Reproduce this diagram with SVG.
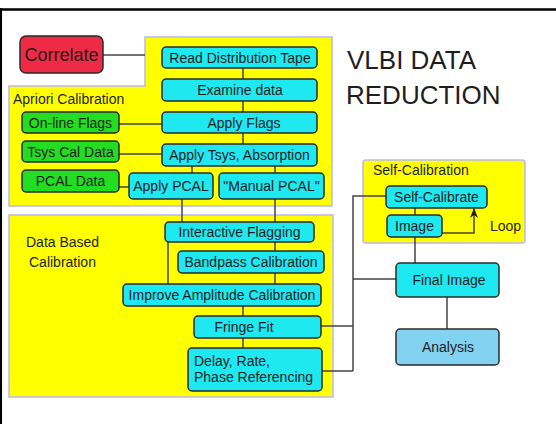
<svg xmlns="http://www.w3.org/2000/svg" width="556" height="424" viewBox="0 0 556 424">
  <style>
    text { font-family: "Liberation Sans", Arial, sans-serif; fill: #1e1e1e; }
    .lbl { font-size: 14px; }
    .c { text-anchor: middle; }
    .panel { fill: #ffff00; stroke: #b8b8f0; stroke-width: 1.5; }
    .box { stroke: #2a2a2a; stroke-width: 1.5; }
    .cyan { fill: #1ee8f0; }
    .green { fill: #22dd22; }
    .red { fill: #ee2a44; }
    .blue { fill: #82d2f2; }
    .wire { fill: none; stroke: #444; stroke-width: 1.5; }
  </style>
  <defs>
    <marker id="arrow" viewBox="0 0 10 8" refX="9" refY="4" markerWidth="10" markerHeight="8" markerUnits="userSpaceOnUse" orient="auto">
      <path d="M0,0 L10,4 L0,8 L3,4 Z" fill="#1e1e1e"/>
    </marker>
  </defs>

  <rect width="556" height="424" fill="#ffffff"/>
  <!-- page frame -->
  <path d="M0,9.5 H556 M0.8,8 V424" stroke="#000" stroke-width="2.5" fill="none"/>

  <!-- panels -->
  <g id="panel-apriori">
    <path class="panel" d="M145,37 H332 V206 H9 V86 H145 Z"/>
    <text class="lbl" x="13" y="104">Apriori Calibration</text>
  </g>
  <g id="panel-databased">
    <rect class="panel" x="9" y="215" width="324" height="182"/>
    <text class="lbl" x="26" y="247">Data Based</text>
    <text class="lbl" x="29" y="267">Calibration</text>
  </g>
  <g id="panel-selfcal">
    <rect class="panel" x="363" y="160" width="162" height="83" rx="3"/>
    <text class="lbl" x="373" y="175">Self-Calibration</text>
    <text class="lbl" x="490" y="231">Loop</text>
  </g>

  <!-- title -->
  <g id="title">
    <text x="347" y="69" font-size="26">VLBI DATA</text>
    <text x="346" y="104" font-size="26">REDUCTION</text>
  </g>

  <!-- connectors -->
  <g id="connectors">
    <path class="wire" d="M103,55 H145"/>
    <path class="wire" d="M243,68 V79 M243,101 V112 M243,133 V144"/>
    <path class="wire" d="M119,124 H162 M119,154 H162 M119,187 H129"/>
    <path class="wire" d="M192,166 V173 M275,166 V173"/>
    <path class="wire" d="M182,199 V222 M275,199 V222"/>
    <path class="wire" d="M275,242 V251 M168,242 V284 M275,273 V284"/>
    <path class="wire" d="M243,306 V316 M243,338 V348"/>
    <path class="wire" d="M321,326 H353 M322,371 H353 M353,371 V196 H386 M353,279 H396"/>
    <path class="wire" d="M415,208 V215 M415,237 V263 M447,297 V329"/>
    <path class="wire" d="M442,233 H474 V209" marker-end="url(#arrow)"/>
  </g>

  <!-- nodes -->
  <g id="correlate">
    <rect class="box red" x="20" y="36" width="83" height="37" rx="6"/>
    <text class="c" x="61.5" y="61" font-size="18">Correlate</text>
  </g>
  <g id="read-tape">
    <rect class="box cyan" x="162" y="47" width="155" height="21" rx="4"/>
    <text class="lbl c" x="240" y="62.5">Read Distribution Tape</text>
  </g>
  <g id="examine">
    <rect class="box cyan" x="162" y="79" width="155" height="22" rx="4"/>
    <text class="lbl c" x="240" y="95">Examine data</text>
  </g>
  <g id="apply-flags">
    <rect class="box cyan" x="162" y="112" width="155" height="21" rx="4"/>
    <text class="lbl c" x="244" y="127.5">Apply Flags</text>
  </g>
  <g id="apply-tsys">
    <rect class="box cyan" x="162" y="144" width="155" height="22" rx="4"/>
    <text class="lbl c" x="239.5" y="160">Apply Tsys, Absorption</text>
  </g>
  <g id="apply-pcal">
    <rect class="box cyan" x="129" y="173" width="84" height="26" rx="4"/>
    <text class="lbl c" x="171" y="191">Apply PCAL</text>
  </g>
  <g id="manual-pcal">
    <rect class="box cyan" x="219" y="173" width="105" height="26" rx="4"/>
    <text class="lbl c" x="271.5" y="191">"Manual PCAL"</text>
  </g>
  <g id="online-flags">
    <rect class="box green" x="22" y="112" width="97" height="21" rx="4"/>
    <text class="lbl c" x="70.5" y="127.5">On-line Flags</text>
  </g>
  <g id="tsys-cal">
    <rect class="box green" x="22" y="141" width="97" height="21" rx="4"/>
    <text class="lbl c" x="70.5" y="156.5">Tsys Cal Data</text>
  </g>
  <g id="pcal-data">
    <rect class="box green" x="22" y="170" width="97" height="22" rx="4"/>
    <text class="lbl c" x="70.5" y="186">PCAL Data</text>
  </g>
  <g id="interactive-flagging">
    <rect class="box cyan" x="165" y="222" width="149" height="20" rx="4"/>
    <text class="lbl c" x="239.5" y="237">Interactive Flagging</text>
  </g>
  <g id="bandpass">
    <rect class="box cyan" x="178" y="251" width="146" height="22" rx="4"/>
    <text class="lbl c" x="251" y="267">Bandpass Calibration</text>
  </g>
  <g id="improve-amp">
    <rect class="box cyan" x="123" y="284" width="198" height="22" rx="4"/>
    <text class="lbl c" x="222" y="300">Improve Amplitude Calibration</text>
  </g>
  <g id="fringe-fit">
    <rect class="box cyan" x="194" y="316" width="127" height="22" rx="4"/>
    <text class="lbl c" x="244" y="332">Fringe Fit</text>
  </g>
  <g id="delay-rate">
    <rect class="box cyan" x="188" y="348" width="134" height="43" rx="4"/>
    <text class="lbl" x="194" y="366">Delay, Rate,</text>
    <text class="lbl" x="194" y="382">Phase Referencing</text>
  </g>
  <g id="self-calibrate">
    <rect class="box cyan" x="386" y="186" width="101" height="22" rx="4"/>
    <text class="lbl c" x="436.5" y="202">Self-Calibrate</text>
  </g>
  <g id="image">
    <rect class="box cyan" x="387" y="215" width="55" height="22" rx="4"/>
    <text class="lbl c" x="414.5" y="231">Image</text>
  </g>
  <g id="final-image">
    <rect class="box cyan" x="396" y="263" width="103" height="34" rx="4"/>
    <text class="lbl c" x="449" y="284.5">Final Image</text>
  </g>
  <g id="analysis">
    <rect class="box blue" x="396" y="329" width="103" height="36" rx="4"/>
    <text class="lbl c" x="448" y="352">Analysis</text>
  </g>
</svg>
